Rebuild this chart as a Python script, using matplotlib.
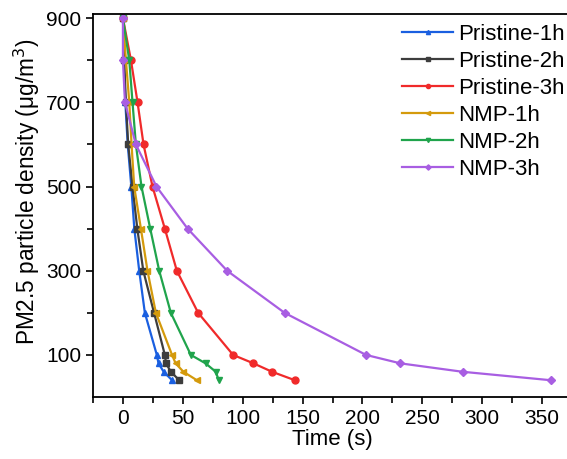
import numpy as np
import matplotlib
matplotlib.use('Agg')
import matplotlib.pyplot as plt
from matplotlib.ticker import MultipleLocator, FixedLocator

plt.rcParams['font.family'] = ['Liberation Sans', 'DejaVu Sans']

# PM2.5 levels (ug/m3) shared by all series
levels = [900, 800, 700, 600, 500, 400, 300, 200, 100, 80, 60, 40]

# time (s) needed to reach each level
t_pristine_1h = [0, 1, 2, 4, 7, 9.5, 13.6, 18.3, 28.3, 29.7, 34, 41]
t_pristine_2h = [0, 1, 2.5, 4.4, 8, 12, 17, 26, 35, 36, 40, 47]
t_pristine_3h = [0, 6.7, 12.2, 17.2, 24.7, 35, 45, 62.8, 92, 109, 124.5, 143.5]
t_nmp_1h = [0, 2.5, 5.3, 7.2, 9.4, 15, 20.5, 27.5, 41, 44, 50.5, 61.7]
t_nmp_2h = [0, 5.3, 8, 10.8, 15.5, 22.8, 30.3, 40, 56.7, 69, 77.5, 80]
t_nmp_3h = [0, 0, 1.7, 10.8, 28, 54, 87, 135, 203, 231.7, 283.6, 357]

names = ['Pristine-1h', 'Pristine-2h', 'Pristine-3h', 'NMP-1h', 'NMP-2h', 'NMP-3h']
series = [t_pristine_1h, t_pristine_2h, t_pristine_3h, t_nmp_1h, t_nmp_2h, t_nmp_3h]
colors = ['#1a5fe0', '#3d3d3d', '#f02a2a', '#d49a0c', '#20a44c', '#a85ee2']
markers = ['^', 's', 'o', '<', 'v', 'D']

fig = plt.figure(figsize=(5.67, 4.59), dpi=100)
ax = fig.add_axes([0.164, 0.135, 0.845, 0.8345])

for t, name, c, m in zip(series, names, colors, markers):
    ms = 4.5 if m == 'D' else 5
    ax.plot(t, levels, color=c, marker=m, markersize=ms, linewidth=1.6, label=name)

ax.set_xlim(-25, 375)
ax.set_ylim(0, 910)
ax.set_xticks([0, 50, 100, 150, 200, 250, 300, 350])
ax.xaxis.set_minor_locator(MultipleLocator(25))
ax.yaxis.set_major_locator(FixedLocator([100, 300, 500, 700, 900]))
ax.yaxis.set_minor_locator(FixedLocator([200, 400, 600, 800]))
ax.tick_params(which='both', direction='out', labelsize=15, width=1.2)
ax.tick_params(which='major', length=5)
ax.tick_params(which='minor', length=4)
for sp in ax.spines.values():
    sp.set_linewidth(1.3)

ax.set_xlabel('Time (s)', fontsize=16, labelpad=1)
ax.set_ylabel('PM2.5 particle density (μg/m$^3$)', fontsize=16.3, labelpad=3)
ax.yaxis.label.set_y(0.535)

leg = fig.legend(loc='upper left', bbox_to_anchor=(402 / 567, 1 - 24 / 459),
                 frameon=False, fontsize=16, handlelength=2.3, handletextpad=0.22,
                 labelspacing=0.27, borderpad=0, borderaxespad=0, markerscale=0.6)

fig.savefig('out.png', dpi=100)
